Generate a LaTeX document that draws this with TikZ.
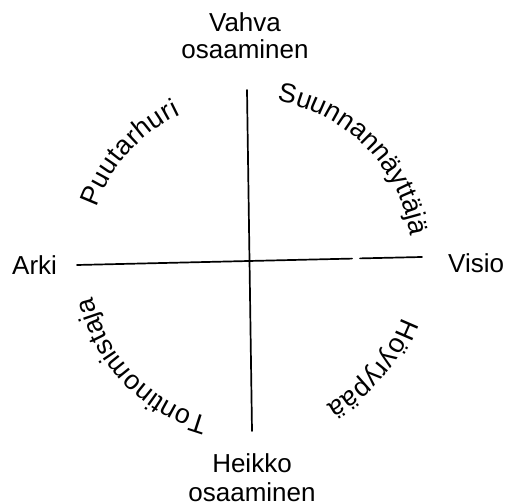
\documentclass[tikz,border=0pt]{standalone}
\usepackage{fontspec}
\setmainfont{Liberation Sans}
\usepackage{tikz}
\usetikzlibrary{decorations.text}

\newcommand{\axfont}{\fontsize{26}{28}\selectfont}
\newcommand{\arcfont}{\fontsize{27}{29}\selectfont}

\begin{document}
\begin{tikzpicture}[
  x=1pt, y=1pt,
  axis/.style={line width=1.7pt, line cap=round},
  pole/.style={font=\axfont, inner sep=0pt, align=center},
  arctext/.style={decorate, decoration={text along path, text align=fit to path}},
]
\useasboundingbox (0,0) rectangle (511,503);

% ---- Centre and axis ends ---------------------------------------------------
\coordinate (O)    at (250, 241);
\coordinate (ntop) at (247, 413);
\coordinate (sbot) at (252, 72);
\coordinate (wend) at (77, 238);
\coordinate (gapl) at (352, 244.4);
\coordinate (gapr) at (360, 244.6);
\coordinate (eend) at (422, 246);

% ---- Axes -------------------------------------------------------------------
\draw[axis] (ntop) -- (sbot);
\draw[axis] (wend) -- (gapl);
\draw[axis] (gapr) -- (eend);

% ---- Pole labels ------------------------------------------------------------
\node[pole, anchor=north] (vahva) at (245, 491) {Vahva\\[-1pt]osaaminen};
\node[pole, anchor=north] (heikko) at (252, 50) {Heikko\\[1pt]osaaminen};
\node[pole, anchor=base west] (arki) at (12, 228) {Arki};
\node[pole, anchor=base west] (visio) at (448, 230) {Visio};

% ---- Quadrant names along the circle ----------------------------------------
\path[arctext, decoration={text={|\arcfont|Puutarhuri}}]
  (O) ++(160.4:163) arc[start angle=160.4, end angle=115.2, radius=163];
\path[arctext, decoration={text={|\arcfont|Suunnannäyttäjä}}]
  (O) ++(80.5:163) arc[start angle=80.5, end angle=10.4, radius=163];
\path[arctext, decoration={text={|\arcfont|Höyrypää}}]
  (O) ++(-20:162) arc[start angle=-20, end angle=-62, radius=162];
\path[arctext, decoration={text={|\arcfont|Tontinomistaja}}]
  (O) ++(-105:161) arc[start angle=-105, end angle=-167, radius=161];

\end{tikzpicture}
\end{document}
